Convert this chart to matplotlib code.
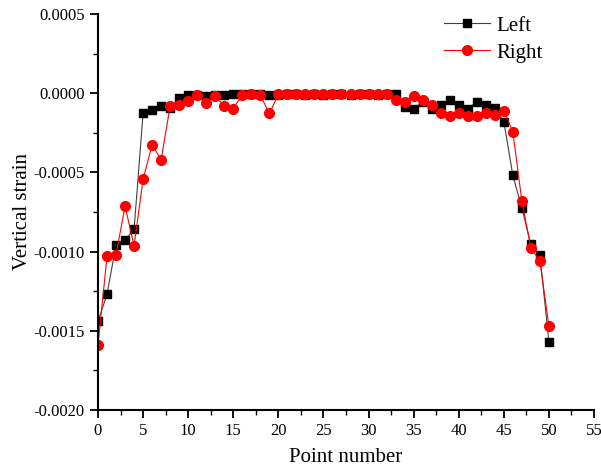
import matplotlib
matplotlib.use("Agg")
import matplotlib.pyplot as plt
from matplotlib.ticker import MultipleLocator, FormatStrFormatter

plt.rcParams['font.family'] = ['Liberation Serif', 'DejaVu Serif']

points = list(range(51))
left = [-0.00144, -0.00127, -0.000958, -0.000928, -0.000859, -0.000128, -0.000103,
        -0.000078, -0.000095, -0.00003, -0.000013, -0.00001, -0.000015, -0.00001,
        -0.000013, -0.000004, -0.000006, -0.000005, -0.000008, -0.00001, -0.00001,
        -0.000008, -0.000008, -0.00001, -0.000008, -0.00001, -0.000008, -0.000008,
        -0.00001, -0.000008, -0.000008, -0.00001, -0.000008, -0.000008, -0.00009,
        -0.000097, -0.000055, -0.000097, -0.000076, -0.000046, -0.000076, -0.000097,
        -0.000055, -0.000076, -0.000093, -0.000179, -0.000518, -0.000724, -0.000955,
        -0.00102, -0.00157]
right = [-0.00159, -0.00103, -0.00102, -0.000713, -0.000964, -0.000543, -0.000326,
         -0.000419, -0.000082, -0.000076, -0.00005, -0.000013, -0.000061, -0.000017,
         -0.000082, -0.000097, -0.00001, -0.000004, -0.000013, -0.000128, -0.000008,
         -0.000008, -0.000008, -0.000008, -0.000008, -0.000008, -0.000008, -0.000008,
         -0.000008, -0.000008, -0.000008, -0.000008, -0.000008, -0.000042, -0.000055,
         -0.000015, -0.000042, -0.000076, -0.000128, -0.000143, -0.000124, -0.000143,
         -0.000143, -0.000124, -0.000139, -0.00011, -0.000244, -0.00068, -0.000977,
         -0.00106, -0.00147]

fig = plt.figure(figsize=(6.01, 4.68), dpi=100)
ax = fig.add_axes([98/601, 1-410/468, (594-98)/601, (410-14)/468])

ax.plot(points, left, color='#404040', lw=0.8, marker='s', markersize=6,
        markerfacecolor='black', markeredgecolor='black', label='Left')
ax.plot(points, right, color='red', lw=0.8, marker='o', markersize=7,
        markerfacecolor='red', markeredgecolor='red', label='Right')

ax.set_xlim(0, 55)
ax.set_ylim(-0.002, 0.0005)
ax.xaxis.set_major_locator(MultipleLocator(5))
ax.xaxis.set_minor_locator(MultipleLocator(2.5))
ax.yaxis.set_major_locator(MultipleLocator(0.0005))
ax.yaxis.set_minor_locator(MultipleLocator(0.00025))
ax.yaxis.set_major_formatter(FormatStrFormatter('%.4f'))

for s in ['top', 'right']:
    ax.spines[s].set_visible(False)
for s in ['left', 'bottom']:
    ax.spines[s].set_linewidth(1.5)

ax.tick_params(which='major', direction='out', length=6, width=1.3, labelsize=12)
ax.tick_params(which='minor', direction='out', length=3.5, width=1.0)

ax.set_xlabel('Point number', fontsize=15, labelpad=6)
ax.set_ylabel('Vertical strain', fontsize=15, labelpad=1)

ax.legend(loc='upper left', bbox_to_anchor=(444/601, 1-16/468),
          bbox_transform=fig.transFigure, frameon=False, fontsize=15,
          handlelength=2.2, handletextpad=0.33, borderaxespad=0, borderpad=0,
          labelspacing=0.36, markerscale=1.0)

fig.savefig('out.png', dpi=100)
